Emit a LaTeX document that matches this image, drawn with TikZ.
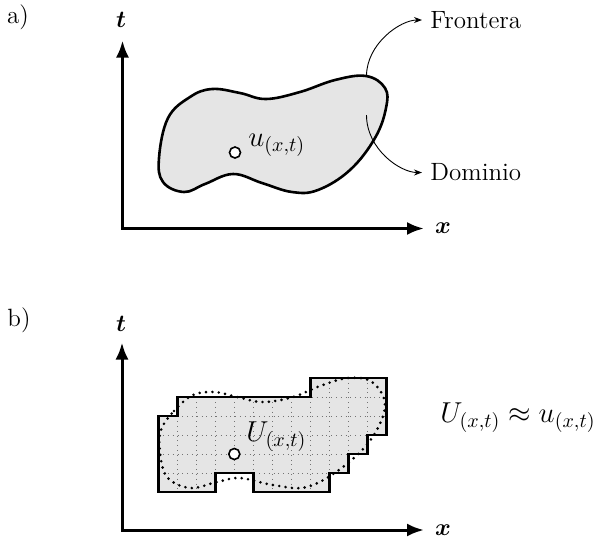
\documentclass[tikz,border=0pt]{standalone}
\usepackage{amsmath,bm}
\usetikzlibrary{arrows.meta}
\begin{document}
\begin{tikzpicture}[x=0.5pt,y=-0.5pt,
  axis/.style={line width=1.5pt,{Latex[length=8.5pt,width=6.5pt]}-{Latex[length=8.5pt,width=6.5pt]}},
  blob/.style={line width=1.3pt,fill=black!10},
  thinarrow/.style={line width=0.45pt,-{Stealth[length=4pt,width=3pt]}},
  lbl/.style={font=\fontsize{12.5}{15}\selectfont,inner sep=0pt},
  mlbl/.style={font=\fontsize{14.2}{17}\selectfont,inner sep=0pt},
  ptmark/.style={circle,draw,line width=0.8pt,fill=white,minimum size=5.5pt,inner sep=0pt},
  gridline/.style={line width=0.35pt,black!55,dash pattern=on 0.4pt off 2pt},
  dotcurve/.style={line width=1.45pt,line cap=round,dash pattern=on 0pt off 3.2pt},
  polyline/.style={line width=1.4pt,line join=miter}
]
\useasboundingbox (0,0) rectangle (594,543);

% ---------- panel a ----------
\node[lbl] (la) at (18,17) {a)};
\coordinate (ta) at (122.5,40.5);
\coordinate (xa) at (424,228.5);
\draw[axis] (ta) |- (xa);
\node[lbl] (tlab) at (121,20) {$\bm{t}$};
\node[lbl] (xlab) at (443,228.5) {$\bm{x}$};

\draw[blob] plot[smooth cycle,tension=0.65] coordinates {
  (159,158) (168,118) (190,97) (212,89) (240,93) (266,99) (300,92) (335,80)
  (366,76) (385,88) (386,108) (375,138) (350,170) (318,190) (292,192)
  (262,183) (233,174) (205,184) (184,192) (163,182)};

\node[ptmark] (ua) at (235,152.5) {};
\node[mlbl,anchor=base west] (ulab) at (248,146.5) {$u_{(x,t)}$};

\coordinate (fb) at (366.5,76);
\coordinate (db) at (366.5,115);
\node[lbl,anchor=west] (front) at (430,20) {Frontera};
\node[lbl,anchor=west] (domin) at (430,172.5) {Dominio};
\draw[thinarrow,shorten >=4pt] (fb) .. controls +(0,-32) and +(-30,0) .. (front.west);
\draw[thinarrow,shorten >=4pt] (db) .. controls +(0,34) and +(-30,0) .. (domin.west);

% ---------- panel b ----------
\node[lbl] (lb) at (19,320) {b)};
\coordinate (tb) at (122,342.5);
\coordinate (xb) at (424,530);
\draw[axis] (tb) |- (xb);
\node[lbl] (tlabb) at (121,324) {$\bm{t}$};
\node[lbl] (xlabb) at (443,530) {$\bm{x}$};

\def\poly{(158.3,492) -- (158.3,416) -- (177.3,416) -- (177.3,397) -- (310.3,397)
  -- (310.3,378) -- (386.3,378) -- (386.3,435) -- (367.3,435) -- (367.3,454)
  -- (348.3,454) -- (348.3,473) -- (329.3,473) -- (329.3,492) -- (253.3,492)
  -- (253.3,473) -- (215.3,473) -- (215.3,492) -- cycle}
\fill[black!10] \poly;
\begin{scope}
  \clip \poly;
  \foreach \i in {1,...,11} \draw[gridline] ({158.3+19*\i},378) -- ({158.3+19*\i},492);
  \foreach \j in {1,...,5} \draw[gridline] (158.3,{492-19*\j}) -- (386.3,{492-19*\j});
\end{scope}
\draw[dotcurve] plot[smooth cycle,tension=0.6] coordinates {
  (161,430) (174,411) (193,395) (215,392) (237,397) (263,402) (293,397)
  (320,386) (348,378) (372,382) (385,405) (372,438) (343,467) (307,487)
  (273,485) (240,478) (217,482) (190,488) (167,477) (160,452)};
\draw[polyline] \poly;

\node[ptmark] (ub) at (234.3,454) {};
\node[mlbl,anchor=base west] (Ulab) at (246,441.5) {$U_{(x,t)}$};
\node[mlbl,anchor=base west] (approx) at (440,422) {$U_{(x,t)}\approx u_{(x,t)}$};
\end{tikzpicture}
\end{document}
